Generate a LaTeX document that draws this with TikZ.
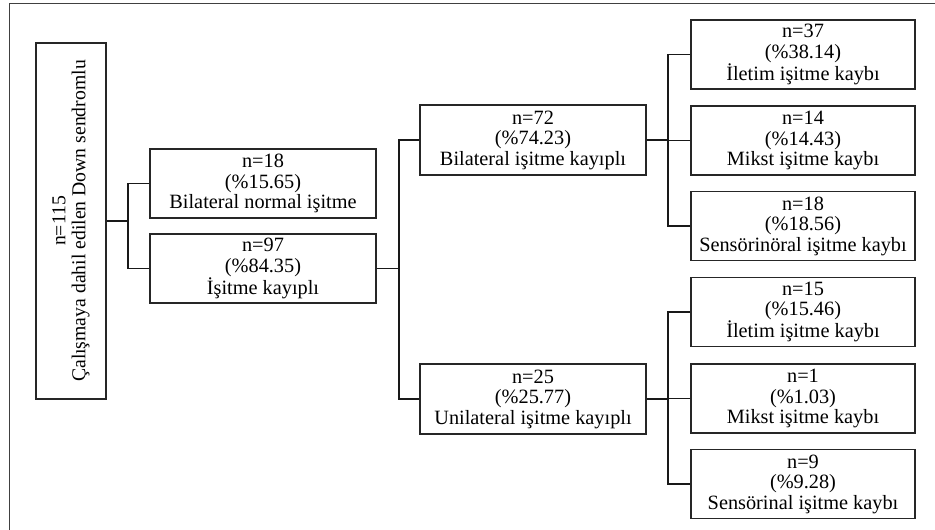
\documentclass[tikz,border=0pt]{standalone}
\usepackage{fontspec}
\setmainfont{Liberation Serif}
\begin{document}
\begin{tikzpicture}[x=1pt,y=-1pt,
  box/.style={draw=black!85, line width=1.3pt, rectangle, align=center, inner sep=0pt,
    font=\fontsize{20.3}{20.5}\selectfont},
  lbox/.style={box, minimum width=226pt, minimum height=69pt},
  rbox/.style={box, minimum width=224pt, minimum height=69pt},
  conn/.style={draw=black!90, line width=1.3pt}]
\useasboundingbox (0,0) rectangle (935,530);
\draw[black!75, line width=1pt] (9,530) -- (9,3) -- (935,3);

\node[box, rotate=90, minimum width=356pt, minimum height=70pt,
  font=\fontsize{19.7}{20}\selectfont] (root) at (71,221)
  {n=115\\Çalışmaya dahil edilen Down sendromlu};

\node[lbox] (b1) at (263,183.5) {n=18\\(\%15.65)\\Bilateral normal işitme};
\node[lbox] (b2) at (263,268.5) {n=97\\(\%84.35)\\İşitme kayıplı};

\node[lbox, minimum height=70pt] (c1) at (533,140) {n=72\\(\%74.23)\\Bilateral işitme kayıplı};
\node[lbox, minimum height=70pt] (c2) at (533,399) {n=25\\(\%25.77)\\Unilateral işitme kayıplı};

\node[rbox] (d1) at (803,54.5) {n=37\\(\%38.14)\\İletim işitme kaybı};
\node[rbox] (d2) at (803,140.5) {n=14\\(\%14.43)\\Mikst işitme kaybı};
\node[rbox] (d3) at (803,226) {n=18\\(\%18.56)\\Sensörinöral işitme kaybı};
\node[rbox] (d4) at (803,312) {n=15\\(\%15.46)\\İletim işitme kaybı};
\node[rbox] (d5) at (803,398.5) {n=1\\(\%1.03)\\Mikst işitme kaybı};
\node[rbox] (d6) at (803,484) {n=9\\(\%9.28)\\Sensörinal işitme kaybı};

\coordinate (j1) at (128,0);
\coordinate (j2) at (399,0);
\coordinate (j3) at (668,0);

\draw[conn] (root.south) -- (root.south -| j1);
\draw[conn] (b1.west) -- (b1.west -| j1) -- (b2.west -| j1) -- (b2.west);

\draw[conn] (b2.east) -- (b2.east -| j2);
\draw[conn] (c1.west) -- (c1.west -| j2) -- (c2.west -| j2) -- (c2.west);

\draw[conn] (c1.east) -- (c1.east -| j3);
\draw[conn] (d1.west) -- (d1.west -| j3) -- (d3.west -| j3) -- (d3.west);
\draw[conn] (d2.west) -- (d2.west -| j3);

\draw[conn] (c2.east) -- (c2.east -| j3);
\draw[conn] (d4.west) -- (d4.west -| j3) -- (d6.west -| j3) -- (d6.west);
\draw[conn] (d5.west) -- (d5.west -| j3);
\end{tikzpicture}
\end{document}
